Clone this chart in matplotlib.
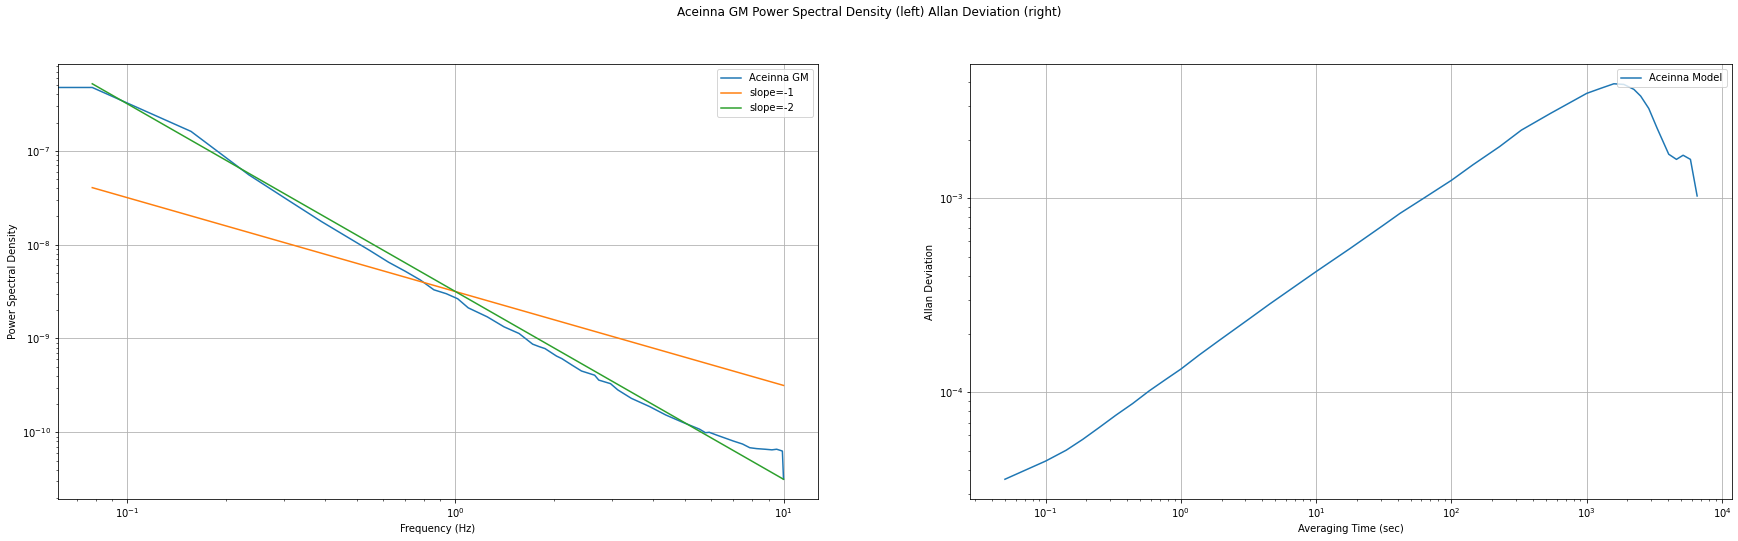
import matplotlib
matplotlib.use('Agg')
import matplotlib.pyplot as plt
import numpy as np

# PSD of the Gauss-Markov model (Welch bins, fs = 20 Hz, nperseg = 256)
psd_freq = [0.0, 0.078125, 0.15625, 0.234375, 0.3125, 0.390625, 0.546875, 0.625,
            0.703125, 0.78125, 0.859375, 0.9375, 1.015625, 1.09375, 1.25, 1.40625,
            1.5625, 1.71875, 1.796875, 1.875, 2.03125, 2.109375, 2.265625, 2.421875,
            2.65625, 2.734375, 2.96875, 3.125, 3.4375, 3.90625, 4.375, 4.921875,
            5.546875, 5.78125, 5.9375, 6.25, 7.03125, 7.5, 7.890625, 8.28125,
            8.828125, 9.21875, 9.53125, 9.84375, 9.921875, 10.0]
psd_vals = [4.73e-7, 4.73e-7, 1.61e-7, 5.55e-8, 2.9e-8, 1.76e-8, 8.7e-9, 6.5e-9,
            5.2e-9, 4.2e-9, 3.3e-9, 3.0e-9, 2.65e-9, 2.12e-9, 1.70e-9, 1.33e-9,
            1.13e-9, 8.7e-10, 8.2e-10, 7.8e-10, 6.5e-10, 6.1e-10, 5.2e-10, 4.5e-10,
            4.06e-10, 3.6e-10, 3.3e-10, 2.83e-10, 2.3e-10, 1.88e-10, 1.53e-10, 1.28e-10,
            1.08e-10, 9.9e-11, 1.0e-10, 9.35e-11, 8.07e-11, 7.5e-11, 6.85e-11, 6.7e-11,
            6.59e-11, 6.5e-11, 6.6e-11, 6.37e-11, 6.3e-11, 3.16e-11]

# reference slope lines through the PSD at 1 Hz
slope_freq = [0.078125, 10.0]
slope1_vals = [4.05e-8, 3.16e-10]
slope2_vals = [5.18e-7, 3.16e-11]

# Allan deviation of the model
tau = [0.05, 0.1, 0.142, 0.188, 0.249, 0.331, 0.44, 0.584, 0.776, 1.0, 1.365,
       1.93, 3.21, 4.51, 10.0, 17.8, 31.4, 41.6, 62.0, 100.0, 144.0, 227.0,
       329.0, 538.0, 1000.0, 1263.0, 1588.0, 1883.0, 2233.0, 2507.0, 2877.0,
       3318.0, 4042.0, 4609.0, 5163.0, 5848.0, 6555.0]
adev = [3.57e-5, 4.43e-5, 5.04e-5, 5.73e-5, 6.6e-5, 7.64e-5, 8.77e-5, 1.02e-4,
        1.17e-4, 1.32e-4, 1.56e-4, 1.86e-4, 2.4e-4, 2.85e-4, 4.2e-4, 5.52e-4,
        7.28e-4, 8.37e-4, 1.0e-3, 1.24e-3, 1.49e-3, 1.85e-3, 2.25e-3, 2.74e-3,
        3.48e-3, 3.69e-3, 3.9e-3, 3.87e-3, 3.65e-3, 3.37e-3, 2.91e-3, 2.3e-3,
        1.69e-3, 1.59e-3, 1.67e-3, 1.59e-3, 1.03e-3]

fig = plt.figure(figsize=(1738 / 72, 541 / 72), dpi=72)
ax1 = fig.add_axes([0.0332, 0.0776, 0.4375, 0.8041])
ax2 = fig.add_axes([0.5583, 0.0776, 0.4381, 0.8041])

ax1.loglog(psd_freq, psd_vals, label='Aceinna GM')
ax1.loglog(slope_freq, slope1_vals, label='slope=-1')
ax1.loglog(slope_freq, slope2_vals, label='slope=-2')
ax1.set_xlabel('Frequency (Hz)')
ax1.set_ylabel('Power Spectral Density')
ax1.grid(True)
ax1.legend(loc='upper right')

ax2.loglog(tau, adev, label='Aceinna Model')
ax2.set_xlabel('Averaging Time (sec)')
ax2.set_ylabel('Allan Deviation')
ax2.grid(True)
ax2.legend(loc='upper right')

fig.suptitle('Aceinna GM Power Spectral Density (left) Allan Deviation (right)',
             y=0.9765, va='center')

fig.savefig('out.png', dpi=72)
